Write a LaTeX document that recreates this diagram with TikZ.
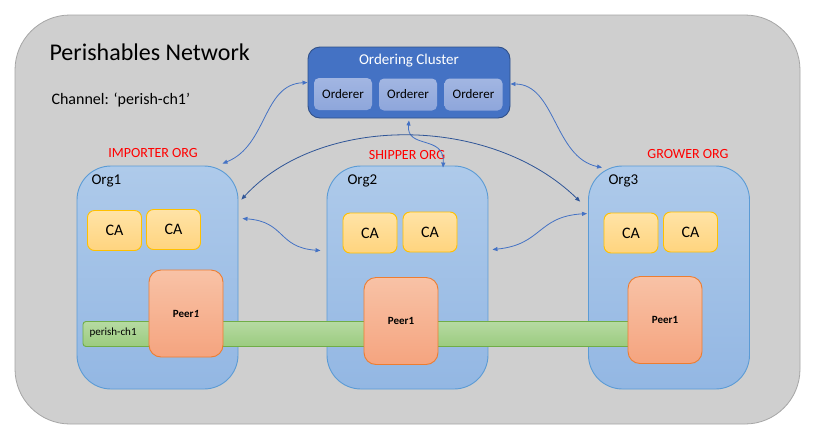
\documentclass[tikz,border=0pt]{standalone}
\usepackage{fontspec}
\setmainfont{Carlito}
\usetikzlibrary{arrows.meta,positioning}
\definecolor{netgray}{HTML}{CFCFCF}
\definecolor{clusterblue}{HTML}{4472C4}
\definecolor{linkblue}{HTML}{4472C4}
\definecolor{archblue}{HTML}{2F5597}
\definecolor{orgtop}{HTML}{AECAEA}
\definecolor{orgbot}{HTML}{93B7E3}
\definecolor{orgline}{HTML}{5B9BD5}
\definecolor{catop}{HTML}{FFE3A6}
\definecolor{cabot}{HTML}{FFD47E}
\definecolor{caline}{HTML}{FFC000}
\definecolor{peertop}{HTML}{F8C2A6}
\definecolor{peerbot}{HTML}{F5A47F}
\definecolor{peerline}{HTML}{ED7D31}
\definecolor{chantop}{HTML}{B6DAA2}
\definecolor{chanbot}{HTML}{9BCB7F}
\definecolor{chanline}{HTML}{70AD47}
\definecolor{ordtop}{HTML}{A2B6E2}
\definecolor{ordbot}{HTML}{8EA6DB}
\newcommand{\fs}[1]{\fontsize{#1}{#1}\selectfont}
\tikzset{
	box/.style={rounded corners=7pt,minimum width=54pt,minimum height=40pt,inner sep=0pt,line width=0.9pt},
	orgbox/.style={draw=orgline,line width=0.9pt,top color=orgtop,bottom color=orgbot,rounded corners=34pt,minimum width=161pt,minimum height=223pt},
	cabox/.style={box,draw=caline,top color=catop,bottom color=cabot,font=\fs{16}},
	peerbox/.style={box,draw=peerline,top color=peertop,bottom color=peerbot,rounded corners=12pt,minimum width=74pt,minimum height=87pt,font=\fs{11}\bfseries},
	ordbox/.style={box,draw=none,top color=ordtop,bottom color=ordbot,minimum width=58pt,minimum height=32pt,rounded corners=5pt,font=\fs{13}},
	orglabel/.style={text=red,font=\fs{14}},
	link/.style={draw=linkblue,line width=0.8pt,{Triangle[length=5pt,width=4pt]}-{Triangle[length=5pt,width=4pt]}}
}
\begin{document}
\begin{tikzpicture}[x=1pt,y=-1pt]
	\useasboundingbox[fill=white] (0,0) rectangle (824,445);
	%NETWORK
	\draw[draw=gray!70,fill=netgray,line width=0.8pt,rounded corners=55pt] (15,15) rectangle (800,424);
	\node[anchor=west,font=\fs{24}] (title) at (46,52) {Perishables Network};
	\node[anchor=west,font=\fs{16}] (chan) at (48,100) {Channel: ‘perish-ch1’};
	%ORDERING CLUSTER
	\node[fill=clusterblue,draw=clusterblue!70!black,line width=0.9pt,rounded corners=12pt,minimum width=202pt,minimum height=71pt] (cluster) at (409,82.5) {};
	\node[text=white,font=\fs{15}] (clustertitle) at (409,61) {Ordering Cluster};
	\node[ordbox] (ord1) at (343,94) {Orderer};
	\node[ordbox] (ord2) at (408,94.5) {Orderer};
	\node[ordbox] (ord3) at (473.5,94.5) {Orderer};
	%ORGS
	\node[orgbox] (org1) at (157.5,277.5) {};
	\node[orgbox] (org2) at (407.5,277.5) {};
	\node[orgbox] (org3) at (669,277.5) {};
	\node[orglabel] (imp) at (153,153) {IMPORTER ORG};
	\node[orglabel] (ship) at (407,155) {SHIPPER ORG};
	\node[orglabel] (grow) at (688,154) {GROWER ORG};
	\node[anchor=west,font=\fs{15}] (o1) at (88,181) {Org1};
	\node[anchor=west,font=\fs{15}] (o2) at (344,181) {Org2};
	\node[anchor=west,font=\fs{15}] (o3) at (605,181) {Org3};
	%CAs
	\node[cabox] (ca11) at (114.5,230.5) {CA};
	\node[cabox] (ca12) at (173.5,229.5) {CA};
	\node[cabox] (ca21) at (370,233) {CA};
	\node[cabox] (ca22) at (430,232) {CA};
	\node[cabox] (ca31) at (631,233) {CA};
	\node[cabox] (ca32) at (690.5,232) {CA};
	%CHANNEL
	\node[draw=chanline,line width=0.9pt,top color=chantop,bottom color=chanbot,rounded corners=3pt,minimum width=557pt,minimum height=25pt,inner sep=0pt] (bar) at (361.5,334) {};
	\node[anchor=west,font=\fs{11}] (barlabel) at (86,333) {perish-ch1};
	%PEERS
	\node[peerbox] (peer1) at (186,313.5) {Peer\textit{1}};
	\node[peerbox] (peer2) at (401,321) {Peer1};
	\node[peerbox] (peer3) at (665,320) {Peer1};
	%LINKS
	\draw[link] (cluster.west) .. controls +(-45,2) and +(45,-18) .. ([xshift=-16pt,yshift=2pt]org1.north east);
	\draw[link] ([yshift=-1.5pt]cluster.east) .. controls +(45,0) and +(-48,-10) .. ([xshift=14pt,yshift=-2pt]org3.north west);
	\draw[link] ([yshift=-2pt]cluster.south) .. controls +(-3,29) and +(2,-33) .. ([xshift=35.5pt,yshift=-2pt]org2.north);
	\draw[link,draw=archblue] ([shift={(3pt,-34pt)}]org1.north east) .. controls (320,114) and (490,114) .. ([shift={(-8pt,-36pt)}]org3.north west);
	\draw[link] ([shift={(4pt,-53pt)}]org1.north east) .. controls +(43,3) and +(-43,-3) .. ([shift={(-6pt,-85pt)}]org2.north west);
	\draw[link] ([shift={(4pt,-84pt)}]org2.north east) .. controls +(50,-5) and +(-50,3) .. ([shift={(-1pt,-48pt)}]org3.north west);
\end{tikzpicture}
\end{document}
